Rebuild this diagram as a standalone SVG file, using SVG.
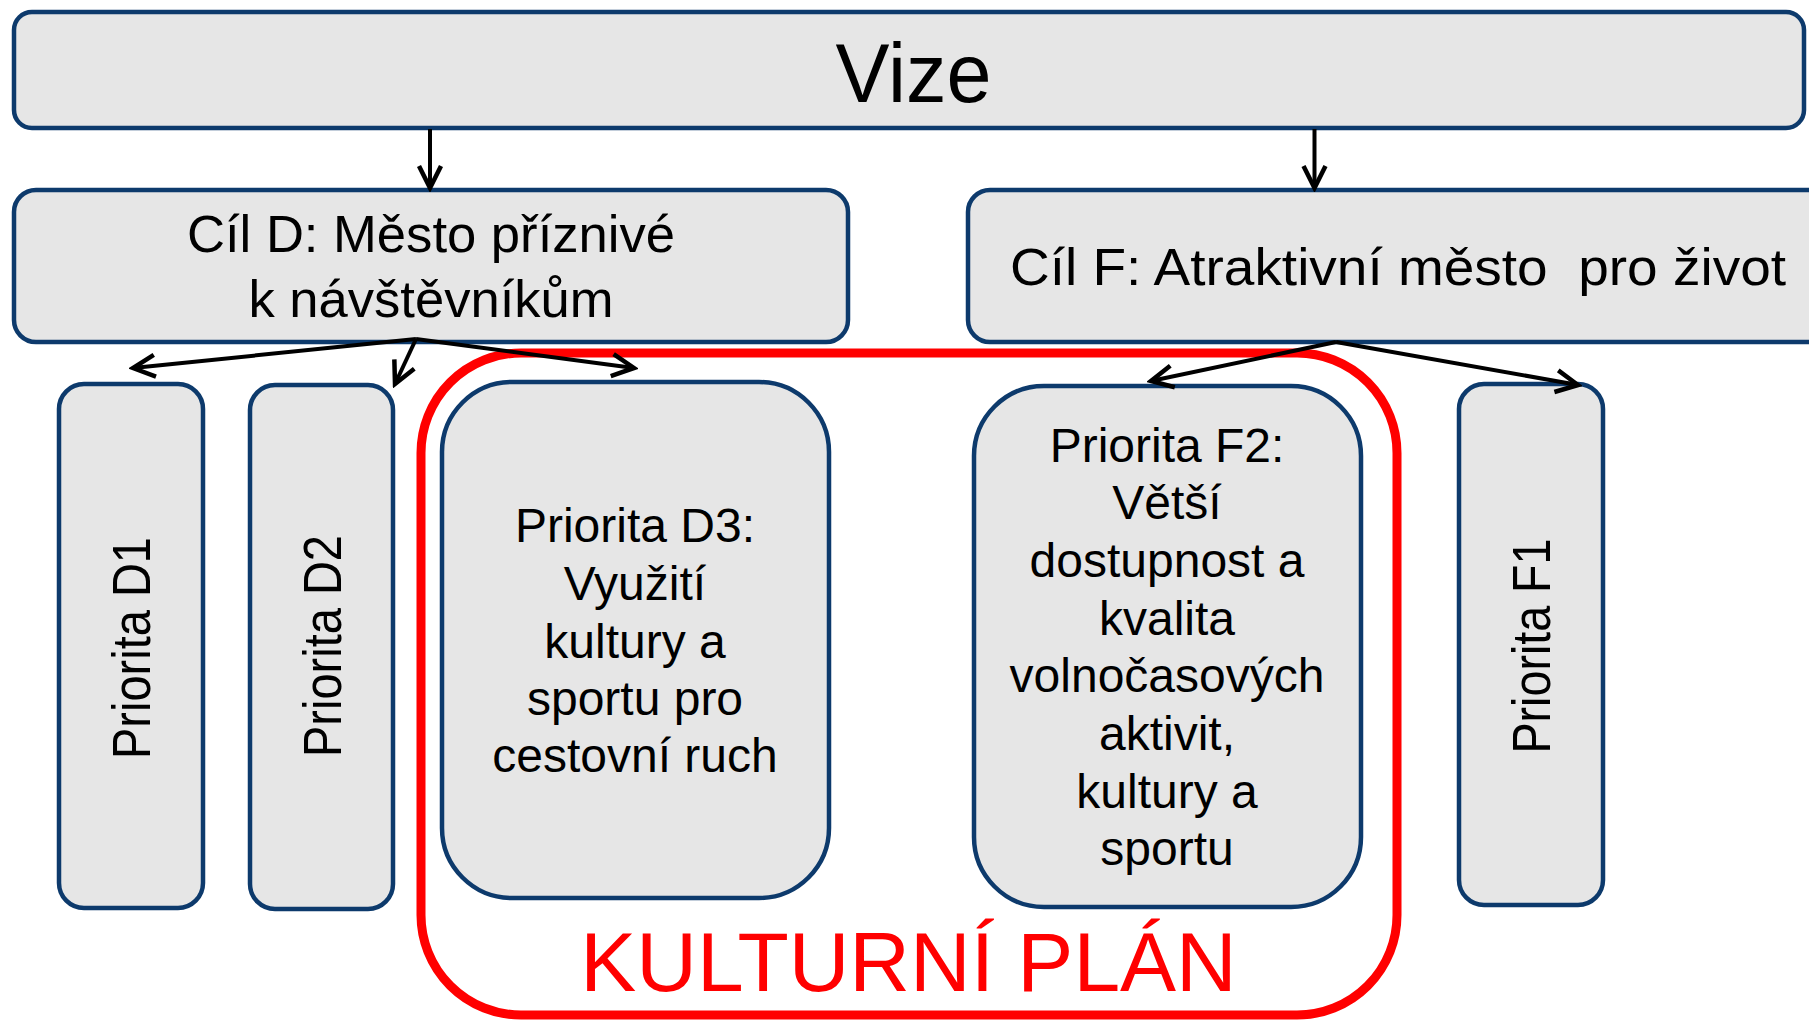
<svg xmlns="http://www.w3.org/2000/svg" width="1809" height="1020" viewBox="0 0 1809 1020">
<style>
.node{fill:#e6e6e6;stroke:#0d3a6c;stroke-width:4.5}
.t{font-family:"Liberation Sans",Arial,sans-serif;fill:#000;text-anchor:middle}
.conn{stroke:#000;stroke-width:4;fill:none}
.kp{fill:none;stroke:#ff0000;stroke-width:9}
</style>
<defs>
<marker id="arr" markerUnits="userSpaceOnUse" viewBox="-26 -14 30 28" markerWidth="30" markerHeight="28" refX="0" refY="0" orient="auto">
<path d="M-22,-11 L0,0 L-22,11" fill="none" stroke="#000" stroke-width="4.5" stroke-linejoin="miter"/>
</marker>
</defs>
<rect width="1809" height="1020" fill="#fff"/>
<g id="kulturni-plan-frame">
<rect class="kp" x="421" y="353" width="976" height="662" rx="100" ry="100"/>
</g>
<g id="vize">
<rect class="node" x="14" y="12" width="1790" height="116" rx="18"/>
<text class="t" x="913.5" y="101.5" font-size="84" textLength="156" lengthAdjust="spacingAndGlyphs">Vize</text>
</g>
<g id="cil-d">
<rect class="node" x="14" y="190" width="834" height="152" rx="22"/>
<text class="t" x="431" y="252" font-size="52" textLength="488" lengthAdjust="spacingAndGlyphs">Cíl D: Město příznivé</text>
<text class="t" x="431" y="317" font-size="52" textLength="365" lengthAdjust="spacingAndGlyphs">k návštěvníkům</text>
</g>
<g id="cil-f">
<rect class="node" x="968" y="190" width="900" height="152" rx="22"/>
<text class="t" x="1398" y="285" font-size="52" textLength="776" lengthAdjust="spacingAndGlyphs" xml:space="preserve" style="white-space:pre">Cíl F: Atraktivní město  pro život</text>
</g>
<g id="priorita-d1">
<rect class="node" x="59" y="384" width="144" height="524" rx="25"/>
<text class="t" transform="translate(150,648) rotate(-90)" font-size="54" textLength="222" lengthAdjust="spacingAndGlyphs">Priorita D1</text>
</g>
<g id="priorita-d2">
<rect class="node" x="250" y="385" width="143" height="524" rx="25"/>
<text class="t" transform="translate(341,646) rotate(-90)" font-size="54" textLength="222" lengthAdjust="spacingAndGlyphs">Priorita D2</text>
</g>
<g id="priorita-d3">
<rect class="node" x="442" y="382" width="387" height="516" rx="70"/>
<text class="t" font-size="48"><tspan x="635" y="542">Priorita D3:</tspan><tspan x="635" y="600">Využití</tspan><tspan x="635" y="658">kultury a</tspan><tspan x="635" y="715">sportu pro</tspan><tspan x="635" y="772">cestovní ruch</tspan></text>
</g>
<g id="priorita-f2">
<rect class="node" x="974" y="386" width="387" height="521" rx="70"/>
<text class="t" font-size="48"><tspan x="1167" y="461.5">Priorita F2:</tspan><tspan x="1167" y="519">Větší</tspan><tspan x="1167" y="577">dostupnost a</tspan><tspan x="1167" y="634.5">kvalita</tspan><tspan x="1167" y="692">volnočasových</tspan><tspan x="1167" y="750">aktivit,</tspan><tspan x="1167" y="807.5">kultury a</tspan><tspan x="1167" y="865">sportu</tspan></text>
</g>
<g id="priorita-f1">
<rect class="node" x="1459" y="384" width="144" height="521" rx="25"/>
<text class="t" transform="translate(1550,646) rotate(-90)" font-size="54" textLength="215" lengthAdjust="spacingAndGlyphs">Priorita F1</text>
</g>
<g id="connectors">
<path class="conn" d="M430,129 L430,188" marker-end="url(#arr)"/>
<path class="conn" d="M1314.5,129 L1314.5,188" marker-end="url(#arr)"/>
<path class="conn" d="M416,339 L133,368" marker-end="url(#arr)"/>
<path class="conn" d="M416,339 L395,384" marker-end="url(#arr)"/>
<path class="conn" d="M416,339 L634,368" marker-end="url(#arr)"/>
<path class="conn" d="M1336,342 L1151,381" marker-end="url(#arr)"/>
<path class="conn" d="M1336,342 L1578,385" marker-end="url(#arr)"/>
</g>
<g id="kulturni-plan-label">
<text class="t" x="908.5" y="991" font-size="84" fill="#ff0000" style="fill:#ff0000">KULTURNÍ PLÁN</text>
</g>
</svg>
